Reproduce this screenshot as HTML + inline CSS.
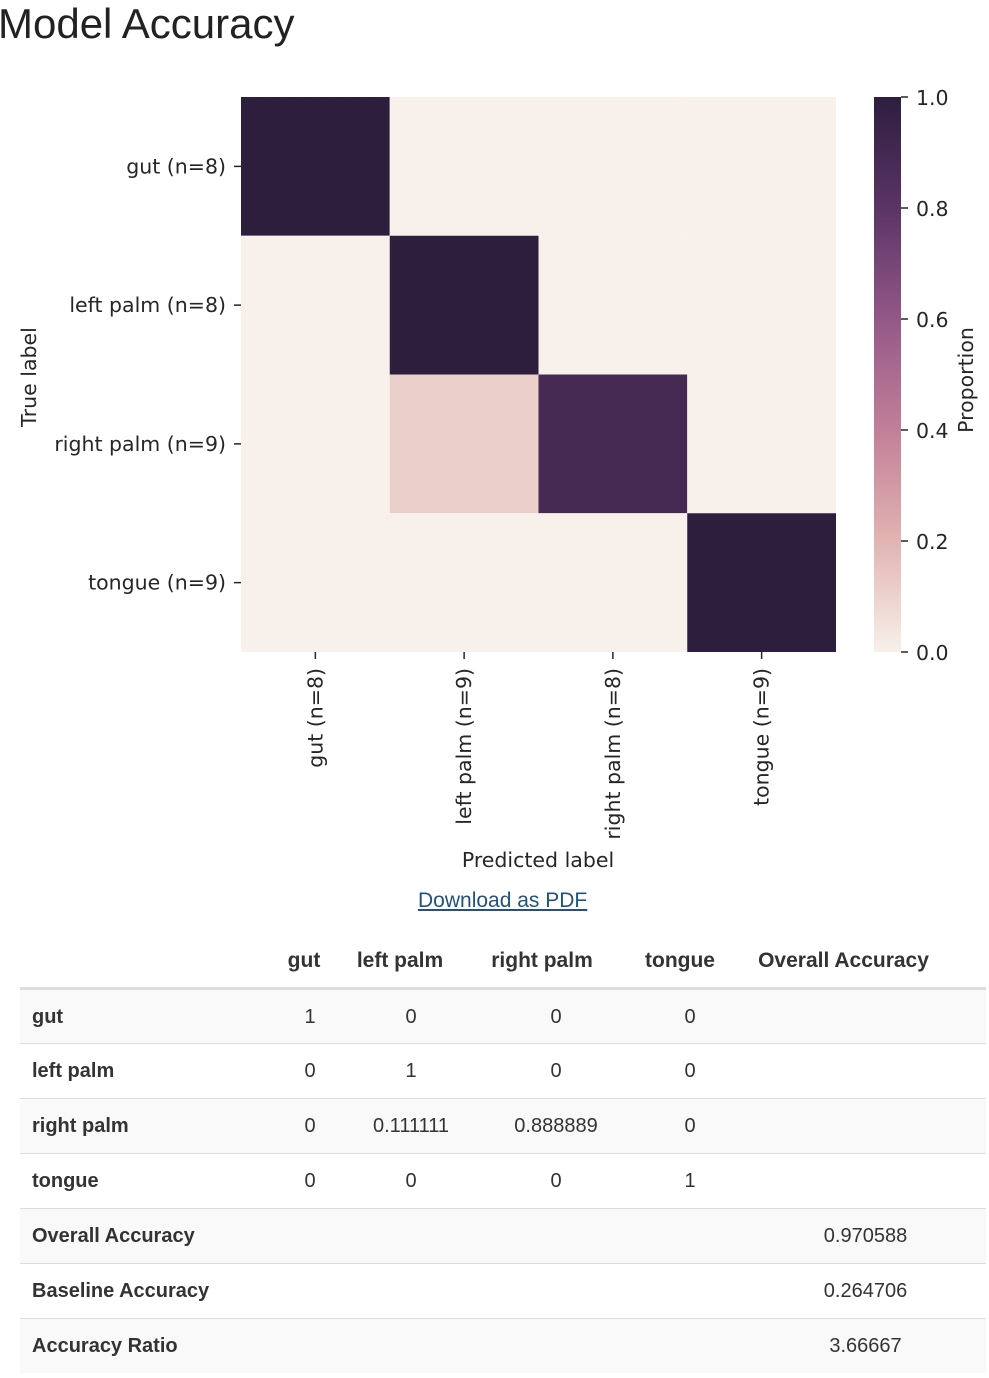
<!DOCTYPE html>
<html><head><meta charset="utf-8"><style>
body{margin:0;width:989px;height:1378px;background:#fff;font-family:"Liberation Sans",sans-serif;color:#333;overflow:hidden;position:relative}
h1{position:absolute;left:-2px;top:0;margin:0;font-weight:normal;font-size:42px;line-height:48px;color:#222}
#chart{position:absolute;left:0;top:0}
a.dl{position:absolute;left:418px;top:889px;font-size:21px;color:#23527c;text-decoration:underline}
table{position:absolute;left:20px;top:935px;width:966px;border-collapse:collapse;font-size:20px;color:#333;table-layout:fixed}
th{font-weight:bold;height:53px;text-align:center;border-bottom:3px solid #ddd;padding:0;font-size:21px;box-sizing:border-box}
td{height:55px;border-top:1px solid #ddd;padding:2px 0 0 0;text-align:center;box-sizing:border-box}
td.l{text-align:left;padding-left:12px;font-weight:bold}
tr.s td{background:#f9f9f9}
</style></head><body>
<h1>Model Accuracy</h1>
<svg id="chart" width="989" height="880" font-family="DejaVu Sans, sans-serif" font-size="20.5" fill="#262626">
<defs><linearGradient id="cg" x1="0" y1="1" x2="0" y2="0">
<stop offset="0" stop-color="#f8f0ea"/><stop offset="0.2" stop-color="#e1b4b2"/><stop offset="0.4" stop-color="#c27f98"/><stop offset="0.6" stop-color="#935887"/><stop offset="0.8" stop-color="#5a3466"/><stop offset="1" stop-color="#2d1e3e"/></linearGradient></defs>
<g id="cells"></g><g id="axes"></g>
<rect x="874" y="97" width="27" height="555" fill="url(#cg)"/>
<text x="36" y="377" text-anchor="middle" transform="rotate(-90 36 377)">True label</text>
<text x="538" y="867" text-anchor="middle">Predicted label</text>
<text x="973" y="380" text-anchor="middle" transform="rotate(-90 973 380)">Proportion</text>
</svg>
<a class="dl">Download as PDF</a>
<table>
<colgroup><col style="width:255px"><col style="width:70px"><col style="width:132px"><col style="width:158px"><col style="width:110px"><col></colgroup>
<tr><th></th><th style="padding-right:12px">gut</th><th style="padding-right:22px">left palm</th><th style="padding-right:28px">right palm</th><th style="padding-right:20px">tongue</th><th style="padding-right:44px">Overall Accuracy</th></tr>
<tr class="s"><td class="l">gut</td><td>1</td><td>0</td><td>0</td><td>0</td><td></td></tr>
<tr><td class="l">left palm</td><td>0</td><td>1</td><td>0</td><td>0</td><td></td></tr>
<tr class="s"><td class="l">right palm</td><td>0</td><td>0.111111</td><td>0.888889</td><td>0</td><td></td></tr>
<tr><td class="l">tongue</td><td>0</td><td>0</td><td>0</td><td>1</td><td></td></tr>
<tr class="s"><td class="l">Overall Accuracy</td><td></td><td></td><td></td><td></td><td>0.970588</td></tr>
<tr><td class="l">Baseline Accuracy</td><td></td><td></td><td></td><td></td><td>0.264706</td></tr>
<tr class="s"><td class="l">Accuracy Ratio</td><td></td><td></td><td></td><td></td><td>3.66667</td></tr>
</table>
<script>
const rowLabels=["gut (n=8)","left palm (n=8)","right palm (n=9)","tongue (n=9)"];
const colLabels=["gut (n=8)","left palm (n=9)","right palm (n=8)","tongue (n=9)"];
const matrix=[[1,0,0,0],[0,1,0,0],[0,0.111111,0.888889,0],[0,0,0,1]];
const cbTicks=[0,0.2,0.4,0.6,0.8,1.0];
const NS="http://www.w3.org/2000/svg";
const X0=241,X1=836,Y0=97,Y1=652,CB0=652,CB1=97;
const xs=i=>X0+(X1-X0)*i/colLabels.length;
const ys=i=>Y0+(Y1-Y0)*i/rowLabels.length;
const cby=v=>CB0+(CB1-CB0)*v;
const stops=[[0,[248,240,234]],[0.2,[225,180,178]],[0.4,[194,127,152]],[0.6,[147,88,135]],[0.8,[90,52,102]],[1,[45,30,62]]];
function color(v){for(let i=1;i<stops.length;i++){if(v<=stops[i][0]){const a=stops[i-1],b=stops[i],t=(v-a[0])/(b[0]-a[0]);return "rgb("+a[1].map((c,k)=>Math.round(c+(b[1][k]-c)*t)).join(",")+")";}}return "rgb(45,30,62)";}
function mk(tag,attrs,parent,txt){const e=document.createElementNS(NS,tag);for(const k in attrs)e.setAttribute(k,attrs[k]);if(txt!=null)e.textContent=txt;parent.appendChild(e);return e;}
const cells=document.getElementById('cells'),axes=document.getElementById('axes');
matrix.forEach((row,r)=>row.forEach((v,c)=>{
 const el=mk('rect',{x:xs(c),y:ys(r),width:xs(c+1)-xs(c),height:ys(r+1)-ys(r),fill:color(v)},cells);
 
 
}));
rowLabels.forEach((l,i)=>{const y=(ys(i)+ys(i+1))/2;
 mk('line',{x1:234,x2:241,y1:y,y2:y,stroke:'#262626','stroke-width':1.5},axes);
 const t=mk('text',{x:226,y:y+7,'text-anchor':'end'},axes,l);
 
 
});
colLabels.forEach((l,i)=>{const x=(xs(i)+xs(i+1))/2;
 mk('line',{x1:x,x2:x,y1:652,y2:659,stroke:'#262626','stroke-width':1.5},axes);
 const t=mk('text',{x:x+7,y:668,'text-anchor':'end',transform:`rotate(-90 ${x+7} 668)`},axes,l);
 
 
});
cbTicks.forEach(v=>{const y=cby(v);
 mk('line',{x1:901,x2:908,y1:y,y2:y,stroke:'#262626','stroke-width':1.5},axes);
 const t=mk('text',{x:916,y:y+8},axes,v.toFixed(1));
 
 
});
</script>
</body></html>
